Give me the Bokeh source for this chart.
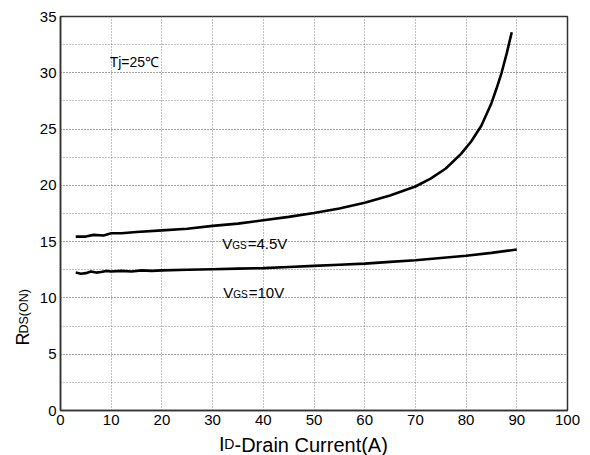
import math
from bokeh.plotting import figure
from bokeh.models import Range1d, SingleIntervalTicker, Label
from bokeh.embed import file_html
from bokeh.resources import INLINE

# ---- data ----
x_45 = [3, 5, 6.5, 8.5, 10, 12, 15, 20, 25, 30, 35, 40, 45, 50, 55, 60, 65, 70, 73, 76, 79, 81, 83, 85, 86, 87, 88, 89]
y_45 = [15.45, 15.45, 15.6, 15.55, 15.75, 15.75, 15.85, 16.0, 16.15, 16.4, 16.6, 16.9, 17.2, 17.55, 17.95, 18.45,
        19.1, 19.9, 20.6, 21.5, 22.8, 23.9, 25.3, 27.3, 28.6, 30.0, 31.7, 33.6]

x_10 = [3, 4, 5, 6, 7, 8, 9, 10, 12, 14, 16, 18, 20, 25, 30, 35, 40, 45, 50, 55, 60, 65, 70, 75, 80, 85, 90]
y_10 = [12.25, 12.15, 12.2, 12.35, 12.25, 12.3, 12.4, 12.35, 12.4, 12.35, 12.45, 12.4, 12.45, 12.5, 12.55,
        12.6, 12.65, 12.75, 12.85, 12.95, 13.05, 13.2, 13.35, 13.55, 13.75, 14.0, 14.3]

FONT = "Liberation Sans"

p = figure(width=590, height=455, output_backend="svg", toolbar_location=None,
           x_range=Range1d(0, 100), y_range=Range1d(0, 35),
           min_border_left=60, min_border_right=23, min_border_top=16, min_border_bottom=45)
p.background_fill_color = "white"
p.border_fill_color = "white"
p.outline_line_color = "#333333"
p.outline_line_width = 1.5

p.xaxis.ticker = SingleIntervalTicker(interval=10, num_minor_ticks=0)
p.yaxis.ticker = SingleIntervalTicker(interval=5, num_minor_ticks=2)
for ax in (p.xaxis[0], p.yaxis[0]):
    ax.axis_line_color = "#333333"
    ax.axis_line_width = 1.5
    ax.major_tick_out = 0
    ax.major_tick_in = 0
    ax.minor_tick_out = 0
    ax.minor_tick_in = 0
    ax.major_label_text_font = FONT
    ax.major_label_text_font_size = "15px"
    ax.major_label_text_color = "black"
p.xaxis.major_label_standoff = 4
p.yaxis.major_label_standoff = 4

p.xgrid.grid_line_color = "#808080"
p.xgrid.grid_line_dash = "1 2"
p.xgrid.grid_line_width = 1
p.ygrid.grid_line_color = "#808080"
p.ygrid.grid_line_dash = "1 2"
p.ygrid.grid_line_width = 1
p.ygrid.minor_grid_line_color = "#808080"
p.ygrid.minor_grid_line_dash = "1 2"
p.ygrid.minor_grid_line_width = 1

p.line(x_45, y_45, line_color="black", line_width=2.6)
p.line(x_10, y_10, line_color="black", line_width=2.6)

def mk(x, y, text, size, units="data", xo=0, yo=0, angle=0):
    return Label(x=x, y=y, x_units=units, y_units=units, x_offset=xo, y_offset=yo,
                 text=text, text_font=FONT, text_font_size=size, text_color="black",
                 text_align="left", text_baseline="alphabetic", angle=angle)

def lab(*a, **k):
    p.add_layout(mk(*a, **k))

# annotations inside the plot
lab(9.7, 30.6, "Tj=25\u2103", "14px", yo=4)
lab(31.9, 14.48, "V", "15px", yo=4)
lab(31.9, 14.48, "GS", "10px", xo=10, yo=2)
lab(31.9, 14.48, "=4.5V", "15px", xo=25.5, yo=4)
lab(32.1, 10.12, "V", "15px", yo=4)
lab(32.1, 10.12, "GS", "10px", xo=10, yo=2)
lab(32.1, 10.12, "=10V", "15px", xo=25.5, yo=4)

# axis titles placed in side panels (panel annotations are not clipped to the frame)
p.add_layout(mk(174, 5, "-Drain Current(A)", "20px", units="screen"), "below")
p.add_layout(mk(-348.5, -33, "I", "20px", units="screen"), "right")
p.add_layout(mk(-349.2, -33, "D", "14px", units="screen"), "right")
p.add_layout(mk(6.1, 65, "R", "18px", units="screen", angle=math.pi / 2), "left")
p.add_layout(mk(21.5, 77, "DS(ON)", "12.5px", units="screen", angle=math.pi / 2), "left")

open("out.html", "w").write(file_html(p, INLINE))
